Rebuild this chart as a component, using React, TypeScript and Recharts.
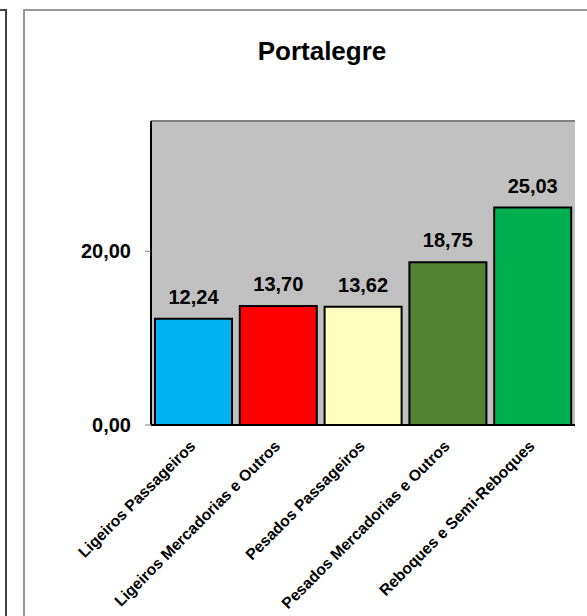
import { BarChart, Bar, XAxis, YAxis, CartesianGrid, Cell, LabelList } from "recharts";

const title = "Portalegre";
const categories = [
  "Ligeiros Passageiros",
  "Ligeiros Mercadorias e Outros",
  "Pesados Passageiros",
  "Pesados Mercadorias e Outros",
  "Reboques e Semi-Reboques",
];
const values = [12.24, 13.7, 13.62, 18.75, 25.03];
const barColors = ["#00B0F0", "#FF0000", "#FFFFC0", "#548235", "#00B050"];
const yTicks = [0, 20];
const yMax = 35;
const slotTicks = [0, 1, 2, 3, 4, 5];

const data = categories.map((name, i) => ({ name, value: values[i], slot: i + 0.5 }));

const FONT = '"Liberation Sans", Arial, sans-serif';
const fmt = (v: number) => v.toFixed(2).replace(".", ",");

function CategoryTick({ x, y, payload }: any) {
  const ax = x + 3;
  const ay = y + 9;
  return (
    <text
      x={ax}
      y={ay}
      transform={`rotate(-45 ${ax} ${ay})`}
      textAnchor="end"
      fontFamily={FONT}
      fontSize={15.7}
      fontWeight="bold"
      fill="#000"
    >
      {payload.value}
    </text>
  );
}

export default function App() {
  return (
    <div style={{ position: "absolute", left: 0, top: 0, width: 587, height: 616, overflow: "hidden", background: "#fff" }}>
      <div style={{ position: "absolute", left: -20, top: 9, width: 23, height: 700, border: "2px solid #404040" }} />
      <div style={{ position: "absolute", left: 23, top: 9, width: 700, height: 700, border: "2px solid #999" }} />
      <div
        style={{
          position: "absolute",
          left: 222,
          top: 38,
          width: 200,
          textAlign: "center",
          fontFamily: FONT,
          fontSize: 26,
          lineHeight: "26px",
          fontWeight: "bold",
          color: "#000",
        }}
      >
        {title}
      </div>
      <div style={{ position: "absolute", left: 0, top: 0 }}>
        <BarChart width={587} height={616} data={data} margin={{ top: 121, right: 12, left: 0, bottom: 0 }} barCategoryGap={4}>
          <CartesianGrid
            xAxisId="a"
            fill="#C0C0C0"
            stroke="#808080"
            strokeWidth={2}
            horizontalValues={[yMax]}
            verticalValues={[5]}
          />
          <XAxis
            xAxisId="b"
            dataKey="name"
            height={186}
            interval={0}
            tickLine={false}
            axisLine={false}
            tick={<CategoryTick />}
          />
          <XAxis
            xAxisId="a"
            dataKey="slot"
            type="number"
            domain={[0, 5]}
            ticks={slotTicks}
            height={5}
            tick={false}
            tickSize={5}
            tickLine={{ stroke: "#808080" }}
            axisLine={{ stroke: "#000", strokeWidth: 2 }}
          />
          <YAxis
            domain={[0, yMax]}
            ticks={yTicks}
            width={151}
            tickSize={6}
            tickMargin={14}
            tickFormatter={fmt}
            tickLine={{ stroke: "#808080" }}
            axisLine={{ stroke: "#000", strokeWidth: 2 }}
            tick={{ fill: "#000", fontSize: 20, fontWeight: "bold", fontFamily: FONT }}
          />
          <Bar dataKey="value" xAxisId="b" stroke="#000" strokeWidth={2} isAnimationActive={false}>
            {data.map((d, i) => (
              <Cell key={d.name} fill={barColors[i]} />
            ))}
            <LabelList
              dataKey="value"
              position="top"
              offset={15}
              formatter={(v: any) => fmt(Number(v))}
              style={{ fill: "#000", fontSize: 20, fontWeight: "bold", fontFamily: FONT }}
            />
          </Bar>
        </BarChart>
      </div>
    </div>
  );
}
